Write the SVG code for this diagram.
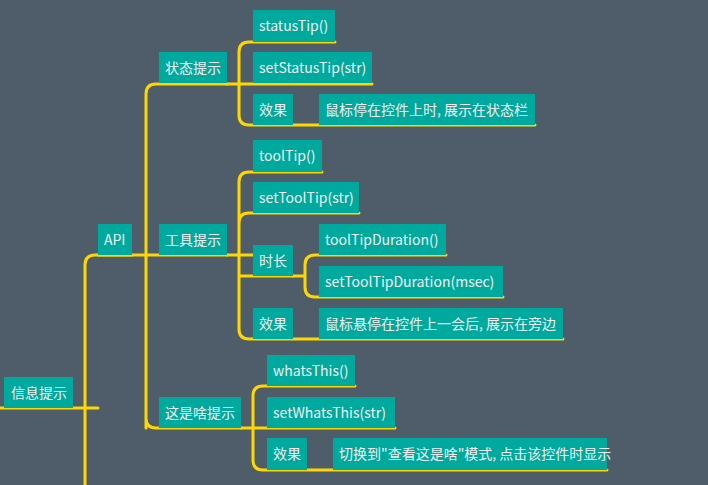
<svg xmlns="http://www.w3.org/2000/svg" width="708" height="485" viewBox="0 0 708 485">
<style>
.b{fill:#00a99d}
.t{font-family:"Noto Sans CJK SC","Noto Sans",sans-serif;font-size:14px;fill:#f0f0f0}
.c{fill:none;stroke:#ffd700;stroke-width:3;stroke-linecap:round}
</style>
<rect width="708" height="485" fill="#4f5d6a"/>
<g id="connectors">
<path class="c" d="M0 408H98M85 485V265Q85 255 95 255H132"/>
<path class="c" d="M98 255H159M146 428V94Q146 84 156 84H227M146 418Q146 428 156 428H241M146 255H227"/>
<path class="c" d="M227 84H372M239 84V52Q239 42 249 42H335M239 84V115Q239 125 249 125H535"/>
<path class="c" d="M227 255H253M239 255V182Q239 172 249 172H322M239 255V223Q239 213 249 213H359M239 255V329Q239 339 249 339H563M239 276H293"/>
<path class="c" d="M293 276H305M305 276V265Q305 255 315 255H446M305 276V287Q305 297 315 297H503"/>
<path class="c" d="M241 428H395M253 428V396Q253 386 263 386H355M253 428V460Q253 470 263 470H607"/>
</g>
<g id="n1"><rect class="b" x="4" y="377" width="69" height="31"/><text class="t" x="11" y="398">信息提示</text></g>
<g id="n2"><rect class="b" x="98" y="224" width="34" height="31"/><text class="t" x="104" y="245">API</text></g>
<g id="n3"><rect class="b" x="159" y="52" width="68" height="31"/><text class="t" x="165" y="73">状态提示</text></g>
<g id="n4"><rect class="b" x="159" y="224" width="68" height="31"/><text class="t" x="165" y="245">工具提示</text></g>
<g id="n5"><rect class="b" x="159" y="397" width="82" height="31"/><text class="t" x="165" y="418">这是啥提示</text></g>
<g id="n6"><rect class="b" x="253" y="10" width="82" height="32"/><text class="t" x="259" y="31">statusTip()</text></g>
<g id="n7"><rect class="b" x="253" y="52" width="119" height="31"/><text class="t" x="259" y="73">setStatusTip(str)</text></g>
<g id="n8"><rect class="b" x="253" y="94" width="40" height="31"/><text class="t" x="259" y="115">效果</text></g>
<g id="n9"><rect class="b" x="319" y="94" width="216" height="31"/><text class="t" x="325" y="115">鼠标停在控件上时, 展示在状态栏</text></g>
<g id="n10"><rect class="b" x="253" y="140" width="69" height="32"/><text class="t" x="259" y="161">toolTip()</text></g>
<g id="n11"><rect class="b" x="253" y="182" width="106" height="31"/><text class="t" x="259" y="203">setToolTip(str)</text></g>
<g id="n12"><rect class="b" x="253" y="245" width="40" height="31"/><text class="t" x="259" y="266">时长</text></g>
<g id="n13"><rect class="b" x="319" y="224" width="127" height="31"/><text class="t" x="325" y="245">toolTipDuration()</text></g>
<g id="n14"><rect class="b" x="319" y="266" width="184" height="31"/><text class="t" x="325" y="287">setToolTipDuration(msec)</text></g>
<g id="n15"><rect class="b" x="253" y="308" width="40" height="31"/><text class="t" x="259" y="329">效果</text></g>
<g id="n16"><rect class="b" x="319" y="308" width="244" height="31"/><text class="t" x="325" y="329">鼠标悬停在控件上一会后, 展示在旁边</text></g>
<g id="n17"><rect class="b" x="267" y="355" width="88" height="31"/><text class="t" x="273" y="376">whatsThis()</text></g>
<g id="n18"><rect class="b" x="267" y="397" width="128" height="31"/><text class="t" x="273" y="418">setWhatsThis(str)</text></g>
<g id="n19"><rect class="b" x="267" y="438" width="40" height="32"/><text class="t" x="273" y="459">效果</text></g>
<g id="n20"><rect class="b" x="333" y="438" width="274" height="32"/><text class="t" x="339" y="459">切换到"查看这是啥"模式, 点击该控件时显示</text></g>
</svg>
